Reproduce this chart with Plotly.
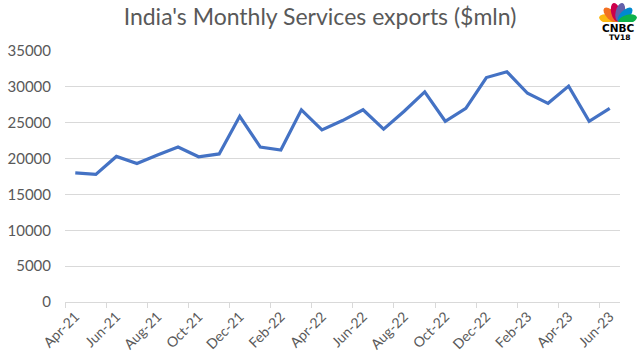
import math
import base64
import plotly.graph_objects as go

months = ["Apr-21", "May-21", "Jun-21", "Jul-21", "Aug-21", "Sep-21", "Oct-21", "Nov-21", "Dec-21",
          "Jan-22", "Feb-22", "Mar-22", "Apr-22", "May-22", "Jun-22", "Jul-22", "Aug-22", "Sep-22",
          "Oct-22", "Nov-22", "Dec-22", "Jan-23", "Feb-23", "Mar-23", "Apr-23", "May-23", "Jun-23"]
exports = [18000, 17800, 20300, 19300, 20500, 21600, 20250, 20650, 25900,
           21600, 21200, 26800, 24000, 25300, 26800, 24100, 26600, 29300,
           25200, 27000, 31300, 32100, 29100, 27700, 30100, 25200, 27000]
y_ticks = [0, 5000, 10000, 15000, 20000, 25000, 30000, 35000]

GRAY = "#595959"
FONT = "Lato"

fig = go.Figure()
fig.add_trace(go.Scatter(
    x=months, y=exports, mode="lines",
    line=dict(color="#4472C4", width=3.2),
    hoverinfo="x+y",
))

fig.update_layout(
    width=640, height=360,
    margin=dict(l=65, r=20, t=51, b=58, autoexpand=False),
    paper_bgcolor="white", plot_bgcolor="white",
    showlegend=False,
    title=dict(text="India's Monthly Services exports ($mln)", x=0.5, xanchor="center",
               y=0.952, yanchor="middle",
               font=dict(family=FONT, size=23, color=GRAY)),
    font=dict(family=FONT, color=GRAY),
)
fig.update_xaxes(
    type="category", dtick=2, tickson="boundaries",
    range=[-0.5, len(months) - 0.5], automargin=False,
    tickangle=-45, tickfont=dict(size=14, color=GRAY),
    showgrid=False, showline=True, linecolor="#D9D9D9", linewidth=1,
    ticks="outside", ticklen=5, tickcolor="#D9D9D9",
)
fig.update_yaxes(
    range=[0, 35000], tickvals=y_ticks, ticktext=[str(v) for v in y_ticks],
    tickfont=dict(size=15, color=GRAY), automargin=False,
    showgrid=True, gridcolor="#D9D9D9", gridwidth=1,
    zeroline=False, showline=False, ticks="", ticklabelstandoff=13,
)

# CNBC TV18 logo approximation (pixel coords -> paper coords)
def px(x):
    return (x - 65) / 555

def py(y):
    return (302 - y) / 251

peacock = ["#FCB711", "#F37021", "#CC004C", "#6460AA", "#0089D0", "#0DB14B"]
angles = [165, 135, 103, 77, 45, 15]
parts = []
for c, a in zip(peacock, angles):
    r = math.radians(a)
    cx, cy = 20 + 10 * math.cos(r), 21 - 10 * math.sin(r)
    parts.append(f'<ellipse cx="{cx:.2f}" cy="{cy:.2f}" rx="9.5" ry="4.6" '
                 f'transform="rotate({-a} {cx:.2f} {cy:.2f})" fill="{c}"/>')
parts.append('<rect x="0" y="21" width="40" height="5" fill="white"/>')
svg = ('<svg xmlns="http://www.w3.org/2000/svg" width="40" height="24" viewBox="0 0 40 24">'
       + "".join(parts) + "</svg>")
src = "data:image/svg+xml;base64," + base64.b64encode(svg.encode()).decode()
fig.add_layout_image(source=src, xref="paper", yref="paper",
                     x=px(598), y=py(1), sizex=40 / 555, sizey=24 / 251,
                     xanchor="left", yanchor="top", sizing="stretch", layer="above")
fig.add_annotation(text="<b>CNBC</b>", xref="paper", yref="paper",
                   x=px(618), y=py(28), xanchor="center", yanchor="middle",
                   showarrow=False, borderpad=0,
                   font=dict(family="DejaVu Sans", size=10.5, color="black"))
fig.add_annotation(text="<b>TV18</b>", xref="paper", yref="paper",
                   x=px(619), y=py(37.5), xanchor="center", yanchor="middle",
                   showarrow=False, borderpad=0,
                   font=dict(family="DejaVu Sans", size=7.5, color="black"))

fig.write_html("out.html", config={"displayModeBar": False},
               post_script="document.body.style.margin='0';document.body.style.overflow='hidden';")
